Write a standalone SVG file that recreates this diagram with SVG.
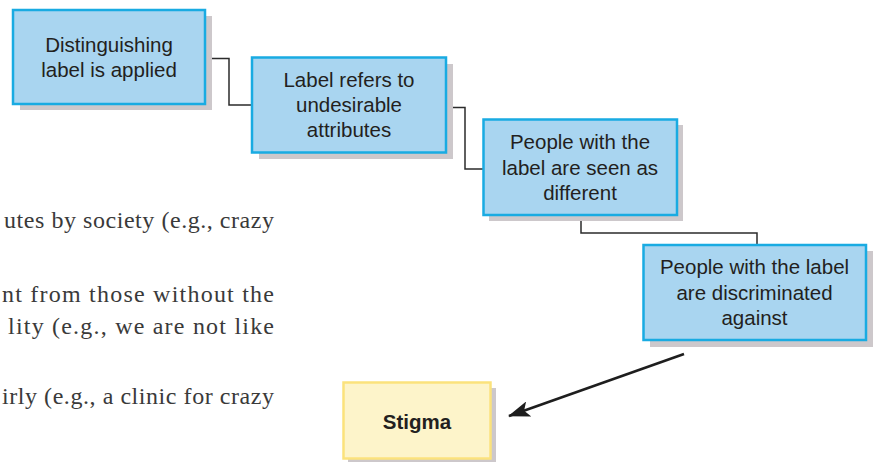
<svg xmlns="http://www.w3.org/2000/svg" width="875" height="462" viewBox="0 0 875 462">
<style>
.shadow{fill:#cdc8cb}
.box{fill:#a9d5f0;stroke:#19abe2;stroke-width:2.5}
.ybox{fill:#fdf4ca;stroke:#fbe27c;stroke-width:2.5}
.lbl{font-family:"Liberation Sans",Arial,sans-serif;font-size:20.5px;fill:#231f20;text-anchor:middle}
.bold{font-weight:bold}
.body{font-family:"Liberation Serif","Times New Roman",serif;font-size:24px;fill:#3a3a3a;text-anchor:end}
.conn{fill:none;stroke:#2b2b2b;stroke-width:1.5}
.arrow{fill:none;stroke:#1e1e1e;stroke-width:2.6}
</style>
<defs>
<marker id="ah2" markerWidth="22" markerHeight="16" refX="21" refY="8" orient="auto" markerUnits="userSpaceOnUse" viewBox="0 0 22 16">
<path d="M0,0 L22,8 L0,16 L5,8 Z" fill="#1e1e1e"/>
</marker>
</defs>
<g id="bodytext">
<text class="body" x="274" y="228" textLength="270" lengthAdjust="spacing">utes by society (e.g., crazy</text>
<text class="body" x="274" y="302" textLength="272" lengthAdjust="spacing">nt from those without the</text>
<text class="body" x="274" y="334" textLength="266" lengthAdjust="spacing">lity (e.g., we are not like</text>
<text class="body" x="274" y="404" textLength="272" lengthAdjust="spacing">irly (e.g., a clinic for crazy</text>
</g>
<g id="connectors">
<path class="conn" d="M205,58.5 H229 V105 H252"/>
<path class="conn" d="M446,107.5 H465 V169 H483"/>
<path class="conn" d="M581,215 V233 H757 V245"/>
<line class="arrow" x1="684" y1="354" x2="509" y2="416" marker-end="url(#ah2)"/>
</g>
<g id="node1">
<rect class="shadow" x="20" y="16" width="192" height="94"/>
<rect class="box" x="13" y="10" width="192" height="94"/>
<text class="lbl" x="109" y="52">Distinguishing</text>
<text class="lbl" x="109" y="77">label is applied</text>
</g>
<g id="node2">
<rect class="shadow" x="259" y="64" width="194" height="95"/>
<rect class="box" x="252" y="57.5" width="194" height="95"/>
<text class="lbl" x="349" y="87">Label refers to</text>
<text class="lbl" x="349" y="112">undesirable</text>
<text class="lbl" x="349" y="137">attributes</text>
</g>
<g id="node3">
<rect class="shadow" x="489" y="125" width="194" height="96"/>
<rect class="box" x="483.5" y="119.5" width="193.5" height="95.5"/>
<text class="lbl" x="580" y="149">People with the</text>
<text class="lbl" x="580" y="175">label are seen as</text>
<text class="lbl" x="580" y="200">different</text>
</g>
<g id="node4">
<rect class="shadow" x="650" y="251" width="223" height="96"/>
<rect class="box" x="643.5" y="245" width="222.5" height="95"/>
<text class="lbl" x="754.5" y="274">People with the label</text>
<text class="lbl" x="754.5" y="300">are discriminated</text>
<text class="lbl" x="754.5" y="325">against</text>
</g>
<g id="stigma">
<rect class="shadow" x="348" y="388" width="148" height="75"/>
<rect class="ybox" x="343.5" y="382.5" width="147" height="76"/>
<text class="lbl bold" x="417" y="429">Stigma</text>
</g>
</svg>
